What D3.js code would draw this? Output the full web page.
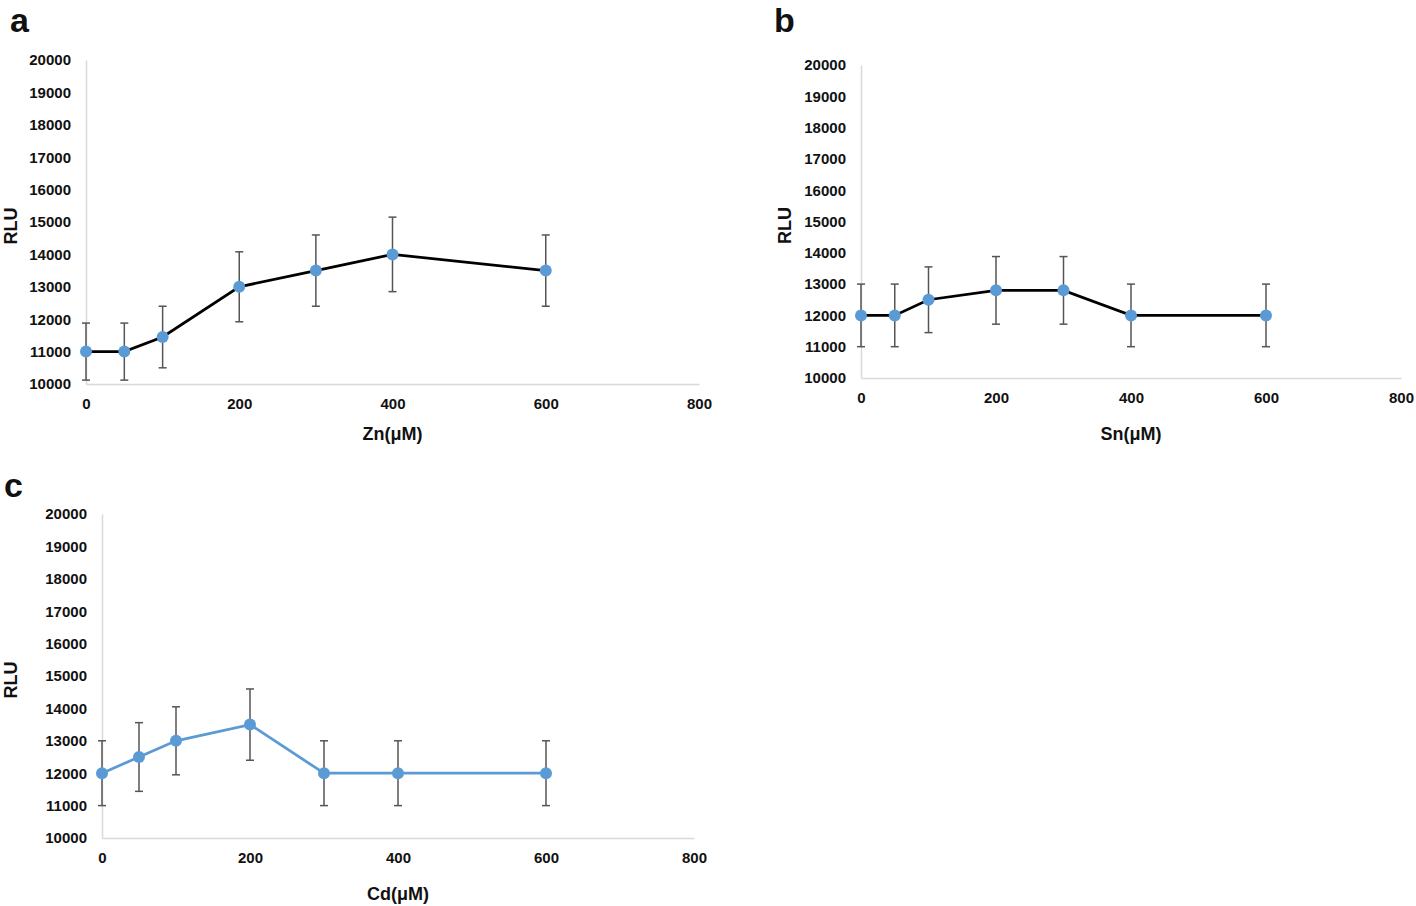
<!DOCTYPE html>
<html><head><meta charset="utf-8">
<script src="https://cdn.jsdelivr.net/npm/d3@7"></script>
<style>
body{margin:0;background:#fff;}
svg text{font-family:"Liberation Sans","Arial",sans-serif;font-weight:bold;fill:#111;}
</style></head>
<body>
<svg id="chart" width="1416" height="906"></svg>
<script>
// ---- data ----
const concentrations = [0, 50, 100, 200, 300, 400, 600];
const znValues = [11000, 11000, 11450, 13000, 13500, 14000, 13500];
const znErrors = [880, 880, 950, 1080, 1100, 1150, 1100];
const snValues = [12000, 12000, 12500, 12800, 12800, 12000, 12000];
const snErrors = [1000, 1000, 1050, 1080, 1080, 1000, 1000];
const cdValues = [12000, 12500, 13000, 13500, 12000, 12000, 12000];
const cdErrors = [1000, 1060, 1050, 1100, 1000, 1000, 1000];
const yTicks = [10000, 11000, 12000, 13000, 14000, 15000, 16000, 17000, 18000, 19000, 20000];
const xTicks = [0, 200, 400, 600, 800];
const panelLetters = ["a", "b", "c"];
const xTitles = ["Zn(\u03BCM)", "Sn(\u03BCM)", "Cd(\u03BCM)"];
const yTitle = "RLU";

const svg = d3.select("#chart");
const panels = [
  {letter: panelLetters[0], xt: xTitles[0], vals: znValues, errs: znErrors, lineColor: "#000",
   x0: 86, x1: 699, yTop: 60, yBot: 384, letterPos: [10, 32], rluX: 12, xtY: 433},
  {letter: panelLetters[1], xt: xTitles[1], vals: snValues, errs: snErrors, lineColor: "#000",
   x0: 861, x1: 1401, yTop: 65, yBot: 378, letterPos: [774, 32], rluX: 786, xtY: 433},
  {letter: panelLetters[2], xt: xTitles[2], vals: cdValues, errs: cdErrors, lineColor: "#5b9bd5",
   x0: 102, x1: 694, yTop: 514, yBot: 838, letterPos: [4, 497], rluX: 12, xtY: 893}
];

panels.forEach(p => {
  const x = d3.scaleLinear().domain([0, 800]).range([p.x0, p.x1]);
  const y = d3.scaleLinear().domain([10000, 20000]).range([p.yBot, p.yTop]);
  const g = svg.append("g");

  // panel letter
  g.append("text").attr("x", p.letterPos[0]).attr("y", p.letterPos[1])
    .style("font-size", "34px").text(p.letter);

  // y axis
  const ya = g.append("g").attr("transform", `translate(${p.x0},0)`)
    .call(d3.axisLeft(y).tickValues(yTicks).tickSize(0).tickPadding(15).tickFormat(d3.format("d")));
  ya.select(".domain").attr("stroke", "#d9d9d9").attr("stroke-width", 1.5);
  ya.selectAll("text").style("font-size", "15px");

  // x axis
  const xa = g.append("g").attr("transform", `translate(0,${p.yBot})`)
    .call(d3.axisBottom(x).tickValues(xTicks).tickSize(0).tickPadding(14).tickFormat(d3.format("d")));
  xa.select(".domain").attr("stroke", "#d9d9d9").attr("stroke-width", 1.5);
  xa.selectAll("text").style("font-size", "15px");

  // titles
  g.append("text").attr("transform", `translate(${p.rluX},${(p.yTop + p.yBot) / 2 + 4}) rotate(-90)`)
    .attr("text-anchor", "middle").attr("dominant-baseline", "middle")
    .style("font-size", "18px").text(yTitle);
  g.append("text").attr("x", x(400)).attr("y", p.xtY + 7).attr("text-anchor", "middle")
    .style("font-size", "18px").text(p.xt);

  const data = concentrations.map((c, i) => ({c, v: p.vals[i], e: p.errs[i]}));

  // line
  g.append("path").datum(data)
    .attr("fill", "none").attr("stroke", p.lineColor).attr("stroke-width", 2.75)
    .attr("d", d3.line().x(d => x(d.c)).y(d => y(d.v)));

  // error bars
  const eb = g.append("g").attr("stroke", "#555").attr("stroke-width", 1.5);
  data.forEach(d => {
    const lo = Math.max(10000, d.v - d.e), hi = d.v + d.e;
    eb.append("line").attr("x1", x(d.c)).attr("x2", x(d.c)).attr("y1", y(lo)).attr("y2", y(hi));
    eb.append("line").attr("x1", x(d.c) - 4).attr("x2", x(d.c) + 4).attr("y1", y(lo)).attr("y2", y(lo));
    eb.append("line").attr("x1", x(d.c) - 4).attr("x2", x(d.c) + 4).attr("y1", y(hi)).attr("y2", y(hi));
  });

  // markers
  g.selectAll("circle.m").data(data).enter().append("circle")
    .attr("cx", d => x(d.c)).attr("cy", d => y(d.v)).attr("r", 6)
    .attr("fill", "#5b9bd5");
});
</script>
</body></html>
